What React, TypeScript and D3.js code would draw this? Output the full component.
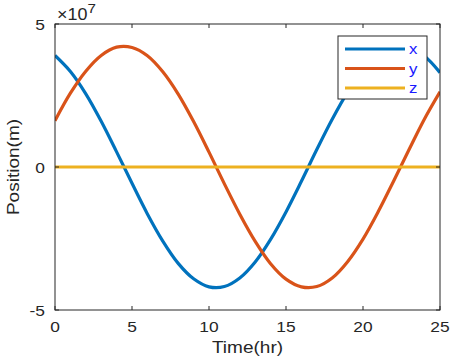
import React from "react";
import * as d3 from "d3";

const timeHr = [0,1,2,3,4,5,6,7,8,9,10,11,12,13,14,15,16,17,18,19,20,21,22,23,24,25];
const xPos = [3.90,3.34,2.56,1.60,0.53,-0.57,-1.64,-2.59,-3.37,-3.91,-4.19,-4.18,-3.88,-3.32,-2.53,-1.57,-0.50,0.61,1.67,2.62,3.39,3.92,4.19,4.17,3.87,3.30];
const yPos = [1.62,2.58,3.35,3.90,4.19,4.18,3.89,3.33,2.55,1.59,0.52,-0.59,-1.65,-2.60,-3.38,-3.92,-4.19,-4.18,-3.88,-3.31,-2.52,-1.55,-0.48,0.62,1.69,2.63];
const zPos = [0,0,0,0,0,0,0,0,0,0,0,0,0,0,0,0,0,0,0,0,0,0,0,0,0,0];
const xTicks = [0,5,10,15,20,25];
const yTicks = [-5,0,5];
const seriesNames = ["x","y","z"];
const seriesColors = ["#0072BD","#D95319","#EDB120"];

export default function App() {
  const W = 450, H = 360;
  const L = 55, R = 440, T = 24, B = 310;
  const xs = d3.scaleLinear().domain([0,25]).range([L,R]);
  const ys = d3.scaleLinear().domain([-5,5]).range([B,T]);
  const series = [xPos, yPos, zPos];
  const line = d3.line<number>().x((_, i) => xs(timeHr[i])).y(d => ys(d)).curve(d3.curveCatmullRom);
  const font = "Liberation Sans, Arial, sans-serif";
  const axisColor = "#262626";
  const tickLen = 4;
  const sx = 1.12;
  return (
    <svg width={W} height={H} style={{position:"absolute", left:0, top:0}} fontFamily={font}>
      <rect x={0} y={0} width={W} height={H} fill="#fff" />
      <defs>
        <clipPath id="plot"><rect x={L} y={T} width={R-L} height={B-T} /></clipPath>
      </defs>
      <g clipPath="url(#plot)">
        {series.map((s, k) => (
          <path key={k} d={line(s) || ""} fill="none" stroke={seriesColors[k]} strokeWidth={3.2} />
        ))}
      </g>
      <rect x={L} y={T} width={R-L} height={B-T} fill="none" stroke={axisColor} strokeWidth={1} />
      {xTicks.map(t => (
        <g key={"x"+t}>
          <line x1={xs(t)} x2={xs(t)} y1={B} y2={B-tickLen} stroke={axisColor} />
          <line x1={xs(t)} x2={xs(t)} y1={T} y2={T+tickLen} stroke={axisColor} />
          <text transform={`translate(${xs(t)},326) scale(${sx},1)`} textAnchor="middle" dominantBaseline="central" fontSize={15.5} fill="#262626">{t}</text>
        </g>
      ))}
      {yTicks.map(t => (
        <g key={"y"+t}>
          <line x1={L} x2={L+tickLen} y1={ys(t)} y2={ys(t)} stroke={axisColor} />
          <line x1={R} x2={R-tickLen} y1={ys(t)} y2={ys(t)} stroke={axisColor} />
          <text transform={`translate(45,${ys(t)}) scale(${sx},1)`} textAnchor="end" dominantBaseline="central" fontSize={15.5} fill="#262626">{t}</text>
        </g>
      ))}
      <text transform={`translate(57,20) scale(${sx},1)`} fontSize={16} fill="#262626">×10<tspan dy={-7.5} fontSize={13.5}>7</tspan></text>
      <text transform={`translate(${(L+R)/2},347) scale(${sx},1)`} textAnchor="middle" dominantBaseline="central" fontSize={17} fill="#262626">Time(hr)</text>
      <text transform={`translate(13,${(T+B)/2}) rotate(-90) scale(${sx},1)`} textAnchor="middle" dominantBaseline="central" fontSize={17} fill="#262626">Position(m)</text>
      <g>
        <rect x={338} y={36} width={89} height={63} fill="#fff" stroke={axisColor} strokeWidth={1} />
        {seriesNames.map((n, k) => (
          <g key={n}>
            <line x1={345} x2={405} y1={49 + k*19.5} y2={49 + k*19.5} stroke={seriesColors[k]} strokeWidth={3.2} />
            <text transform={`translate(409,${49 + k*19.5}) scale(${sx},1)`} dominantBaseline="central" fontSize={15} fill="#1a1aff">{n}</text>
          </g>
        ))}
      </g>
    </svg>
  );
}
